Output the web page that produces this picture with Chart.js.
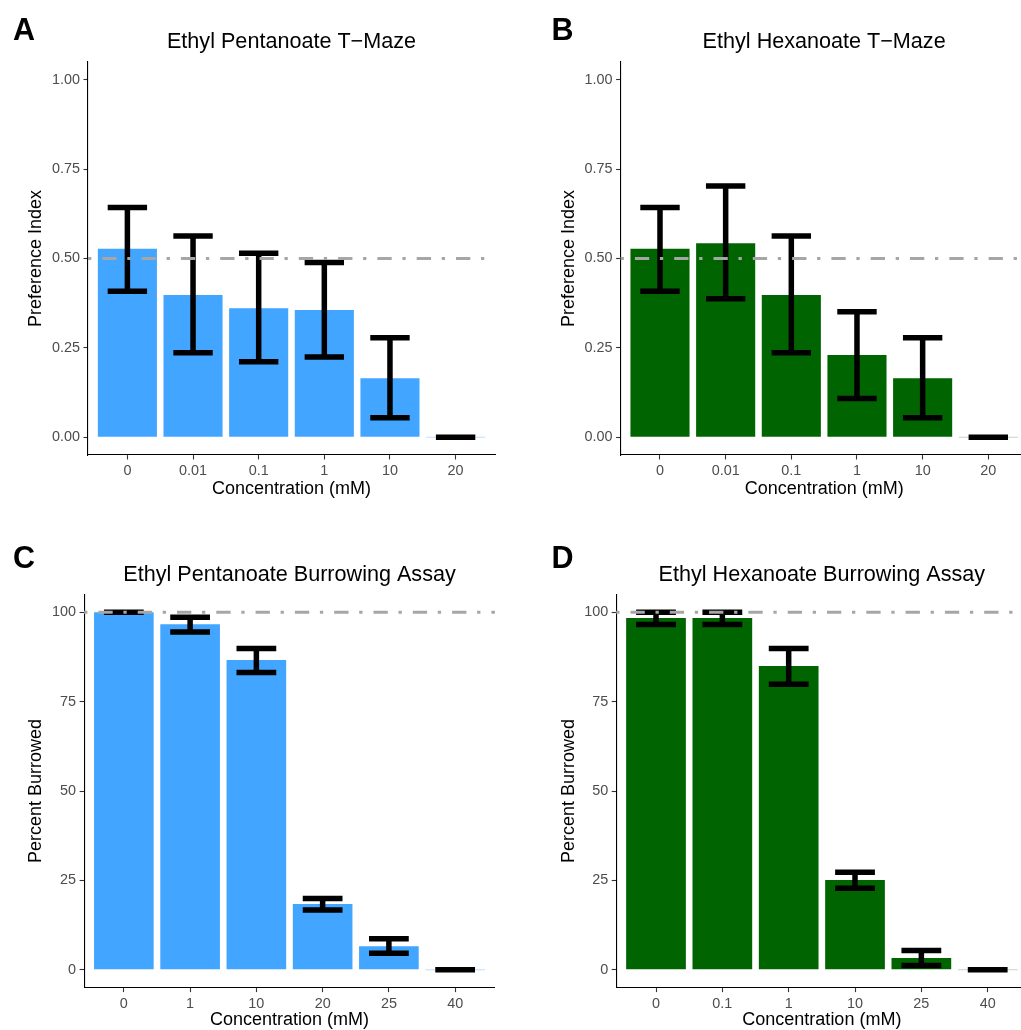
<!DOCTYPE html>
<html>
<head>
<meta charset="utf-8">
<script src="https://cdn.jsdelivr.net/npm/chart.js@4"></script>
<style>
  html, body { margin: 0; padding: 0; background: #fff; overflow: hidden; width: 1021px; height: 1030px; }
  canvas { position: absolute; }
</style>
</head>
<body>
<canvas id="cA" width="510" height="510" style="left:0px;top:0px;"></canvas>
<canvas id="cB" width="521" height="510" style="left:510px;top:0px;"></canvas>
<canvas id="cC" width="510" height="520" style="left:0px;top:520px;"></canvas>
<canvas id="cD" width="521" height="520" style="left:510px;top:520px;"></canvas>
<script>
// ---------- DATA ----------
const tmazeCats = ['0', '0.01', '0.1', '1', '10', '20'];
const pentTmazeMean  = [0.527, 0.398, 0.361, 0.356, 0.165, 0];
const pentTmazeUpper = [0.643, 0.563, 0.515, 0.489, 0.278, 0];
const pentTmazeLower = [0.408, 0.236, 0.211, 0.224, 0.054, 0];

const hexTmazeMean  = [0.527, 0.543, 0.398, 0.230, 0.165, 0];
const hexTmazeUpper = [0.643, 0.703, 0.563, 0.351, 0.278, 0];
const hexTmazeLower = [0.408, 0.387, 0.236, 0.108, 0.054, 0];

const pentBurrowCats  = ['0', '1', '10', '20', '25', '40'];
const pentBurrowMean  = [100, 96.7, 86.7, 18.4, 6.6, 0];
const pentBurrowUpper = [100, 98.6, 89.9, 19.9, 8.7, 0];
const pentBurrowLower = [100, 94.5, 83.2, 16.7, 4.6, 0];

const hexBurrowCats  = ['0', '0.1', '1', '10', '25', '40'];
const hexBurrowMean  = [98.4, 98.4, 85.0, 25.1, 3.3, 0];
const hexBurrowUpper = [100, 100, 89.9, 27.3, 5.4, 0];
const hexBurrowLower = [96.6, 96.6, 79.9, 22.8, 1.2, 0];

const tmazeTicks = [0, 0.25, 0.5, 0.75, 1];
const tmazeTickLabels = ['0.00', '0.25', '0.50', '0.75', '1.00'];
const burrowTicks = [0, 25, 50, 75, 100];
const burrowTickLabels = ['0', '25', '50', '75', '100'];

const tmazeRef = 0.5;
const burrowRef = 100;

// ---------- STYLE ----------
const FONT = "'Liberation Sans', Arial, Helvetica, sans-serif";
const BLUE = '#42a5ff', BLUE_LIGHT = 'rgba(66,165,255,0.35)';
const GREEN = '#006400', GREEN_LIGHT = 'rgba(0,100,0,0.25)';

const decor = {
  id: 'decor',
  afterDatasetsDraw(chart, args, o) {
    const { ctx, chartArea } = chart;
    const x = chart.scales.x, y = chart.scales.y;
    ctx.save();
    ctx.strokeStyle = '#000';
    ctx.lineWidth = 5.5;
    ctx.lineCap = 'butt';
    o.upper.forEach((u, i) => {
      const l = o.lower[i];
      const cx = x.getPixelForValue(i);
      const x0 = x.getPixelForValue(i - 0.3), x1 = x.getPixelForValue(i + 0.3);
      const yu = y.getPixelForValue(u), yl = y.getPixelForValue(l);
      ctx.beginPath();
      ctx.moveTo(cx, yu); ctx.lineTo(cx, yl);
      ctx.moveTo(x0, yu); ctx.lineTo(x1, yu);
      ctx.moveTo(x0, yl); ctx.lineTo(x1, yl);
      ctx.stroke();
    });
    const yr = y.getPixelForValue(o.ref);
    ctx.setLineDash([14.3, 10.7, 3.3, 11]);
    ctx.lineDashOffset = 25;
    ctx.strokeStyle = '#a6a6a6';
    ctx.lineWidth = 3;
    ctx.beginPath();
    ctx.moveTo(chartArea.left, yr);
    ctx.lineTo(chartArea.right, yr);
    ctx.stroke();
    ctx.restore();
  },
  afterDraw(chart, args, o) {
    const { ctx, chartArea } = chart;
    ctx.save();
    ctx.fillStyle = '#000';
    ctx.textBaseline = 'alphabetic';
    ctx.font = '21.6px ' + FONT;
    ctx.textAlign = 'center';
    ctx.fillText(o.title, (chartArea.left + chartArea.right) / 2, o.titleY);
    ctx.font = 'bold 30.5px ' + FONT;
    ctx.textAlign = 'left';
    ctx.fillText(o.letter, o.letterX, o.letterY);
    ctx.restore();
  }
};

function makePanel(p) {
  const el = document.getElementById(p.id);
  const cw = el.width, ch = el.height;
  const yAxisW = p.plot.left - p.canvas.left;
  const xAxisH = (p.canvas.top + ch) - p.plot.bottom;
  const lightColor = p.light, color = p.color;
  new Chart(el, {
    type: 'bar',
    data: {
      datasets: [{
        data: p.mean.map((v, i) => ({ x: i, y: v })),
        backgroundColor: c => (c.raw && c.raw.y === 0 ? lightColor : color),
        borderWidth: 0,
        minBarLength: 1,
        categoryPercentage: 1,
        barPercentage: 0.9
      }]
    },
    options: {
      responsive: false,
      animation: false,
      devicePixelRatio: 1,
      layout: {
        padding: {
          left: 0,
          top: p.plot.top - p.canvas.top,
          right: (p.canvas.left + cw) - p.plot.right,
          bottom: 0
        }
      },
      plugins: {
        legend: { display: false },
        tooltip: { enabled: false },
        title: { display: false },
        decor: {
          upper: p.upper, lower: p.lower, ref: p.ref,
          title: p.title, titleY: p.titleY,
          letter: p.letter, letterX: p.letterX, letterY: p.letterY
        }
      },
      scales: {
        x: {
          type: 'linear',
          offset: false,
          min: -0.6, max: p.cats.length - 0.4,
          afterBuildTicks: s => { s.ticks = p.cats.map((c, i) => ({ value: i })); },
          afterFit: s => { s.height = xAxisH; },
          grid: { display: true, drawOnChartArea: false, drawTicks: true, tickLength: 4.5, tickColor: '#333', tickWidth: 1.1, offset: false },
          border: { display: true, color: '#000', width: 1.1 },
          ticks: {
            autoSkip: false, maxRotation: 0, padding: 3,
            color: '#4d4d4d', font: { family: FONT, size: 14.4 },
            callback: v => p.cats[Math.round(v)]
          },
          title: {
            display: true, text: 'Concentration (mM)', color: '#000',
            font: { family: FONT, size: 18 },
            padding: { top: 0, bottom: p.xTitlePad }
          }
        },
        y: {
          type: 'linear',
          min: p.yMin, max: p.yMax,
          afterBuildTicks: s => { s.ticks = p.yTicks.map(v => ({ value: v })); },
          afterFit: s => { s.width = yAxisW; },
          grid: { display: true, drawOnChartArea: false, drawTicks: true, tickLength: 4.5, tickColor: '#333', tickWidth: 1.1 },
          border: { display: true, color: '#000', width: 1.1 },
          ticks: {
            autoSkip: false, padding: 3.5,
            color: '#4d4d4d', font: { family: FONT, size: 14.4 },
            callback: (v, i) => p.yTickLabels[p.yTicks.indexOf(v)]
          },
          title: {
            display: true, text: p.yTitle, color: '#000',
            font: { family: FONT, size: 18 },
            padding: { top: p.yTitlePad, bottom: 0 }
          }
        }
      }
    },
    plugins: [decor]
  });
}

makePanel({
  id: 'cA', canvas: { left: 0, top: 0 }, plot: { left: 88, right: 495, top: 62, bottom: 455 },
  cats: tmazeCats, mean: pentTmazeMean, upper: pentTmazeUpper, lower: pentTmazeLower,
  color: BLUE, light: BLUE_LIGHT, ref: tmazeRef, yMin: -0.05, yMax: 1.05,
  yTicks: tmazeTicks, yTickLabels: tmazeTickLabels, yTitle: 'Preference Index',
  title: 'Ethyl Pentanoate T\u2212Maze', titleY: 48.3, letter: 'A', letterX: 13, letterY: 40,
  xTitlePad: 10.4, yTitlePad: 25.7
});
makePanel({
  id: 'cB', canvas: { left: 510, top: 0 }, plot: { left: 620.6, right: 1027.7, top: 62, bottom: 455 },
  cats: tmazeCats, mean: hexTmazeMean, upper: hexTmazeUpper, lower: hexTmazeLower,
  color: GREEN, light: GREEN_LIGHT, ref: tmazeRef, yMin: -0.05, yMax: 1.05,
  yTicks: tmazeTicks, yTickLabels: tmazeTickLabels, yTitle: 'Preference Index',
  title: 'Ethyl Hexanoate T\u2212Maze', titleY: 48.3, letter: 'B', letterX: 41.5, letterY: 40,
  xTitlePad: 10.4, yTitlePad: 48.7
});
makePanel({
  id: 'cC', canvas: { left: 0, top: 520 }, plot: { left: 84.1, right: 494.9, top: 594.5, bottom: 987.6 },
  cats: pentBurrowCats, mean: pentBurrowMean, upper: pentBurrowUpper, lower: pentBurrowLower,
  color: BLUE, light: BLUE_LIGHT, ref: burrowRef, yMin: -5, yMax: 105,
  yTicks: burrowTicks, yTickLabels: burrowTickLabels, yTitle: 'Percent Burrowed',
  title: 'Ethyl Pentanoate Burrowing Assay', titleY: 61, letter: 'C', letterX: 13, letterY: 48.3,
  xTitlePad: 8.7, yTitlePad: 25.7
});
makePanel({
  id: 'cD', canvas: { left: 510, top: 520 }, plot: { left: 616.2, right: 1027.5, top: 594.5, bottom: 987.6 },
  cats: hexBurrowCats, mean: hexBurrowMean, upper: hexBurrowUpper, lower: hexBurrowLower,
  color: GREEN, light: GREEN_LIGHT, ref: burrowRef, yMin: -5, yMax: 105,
  yTicks: burrowTicks, yTickLabels: burrowTickLabels, yTitle: 'Percent Burrowed',
  title: 'Ethyl Hexanoate Burrowing Assay', titleY: 61, letter: 'D', letterX: 41.5, letterY: 48.3,
  xTitlePad: 8.7, yTitlePad: 48.7
});
</script>
</body>
</html>
